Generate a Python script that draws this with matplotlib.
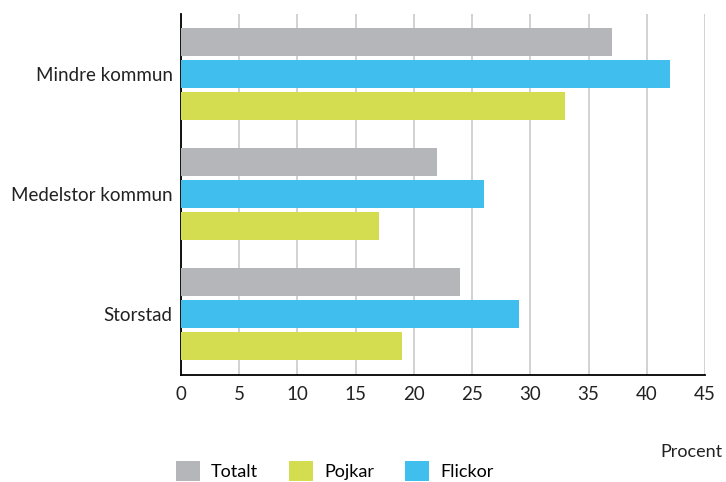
import numpy as np
import matplotlib.pyplot as plt

plt.rcParams['font.family'] = ['Lato', 'DejaVu Sans']

groups = ['Mindre kommun', 'Medelstor kommun', 'Storstad']
series = ['Totalt', 'Flickor', 'Pojkar']
totalt = [37, 22, 24]
flickor = [42, 26, 29]
pojkar = [33, 17, 19]
colors = {'Totalt': '#b5b6ba', 'Pojkar': '#d4dc50', 'Flickor': '#40bfee'}

fig = plt.figure(figsize=(7.26, 4.82), dpi=100)
ax = fig.add_axes([181/726, 1-375/482, 524/726, 361/482])

centers = np.arange(len(groups)) * 3.75
values = {'Totalt': totalt, 'Flickor': flickor, 'Pojkar': pojkar}
handles = {}
for i, s in enumerate(series):
    handles[s] = ax.barh(centers + (i - 1), values[s], height=0.875,
                         color=colors[s], label=s, zorder=3)

ax.set_xlim(0, 45)
ax.set_ylim(centers[-1] + 1.9, -1.875)
ax.set_xticks(range(0, 46, 5))
ax.set_yticks(centers)
ax.set_yticklabels(groups)
ax.tick_params(length=0, labelsize=13.5, colors='#222222')
ax.tick_params(axis='x', pad=8)
ax.tick_params(axis='y', pad=6)
ax.grid(axis='x', color='#cfcfcf', lw=1.3, zorder=0)
for sp in ['top', 'right']:
    ax.spines[sp].set_visible(False)
ax.spines['left'].set_linewidth(1.3)
ax.spines['bottom'].set_linewidth(1.3)

fig.text(723/726, 1-452/482, 'Procent', ha='right', va='center', fontsize=13, color='#222222')

order = ['Totalt', 'Pojkar', 'Flickor']
fig.legend([handles[s] for s in order], order, loc='upper left',
           bbox_to_anchor=(176/726, 1-461/482), ncol=3, frameon=False,
           fontsize=13, handlelength=1.35, handleheight=1.35,
           columnspacing=1.7, handletextpad=0.6, borderpad=0,
           borderaxespad=0)

fig.savefig('out.png', dpi=100)
